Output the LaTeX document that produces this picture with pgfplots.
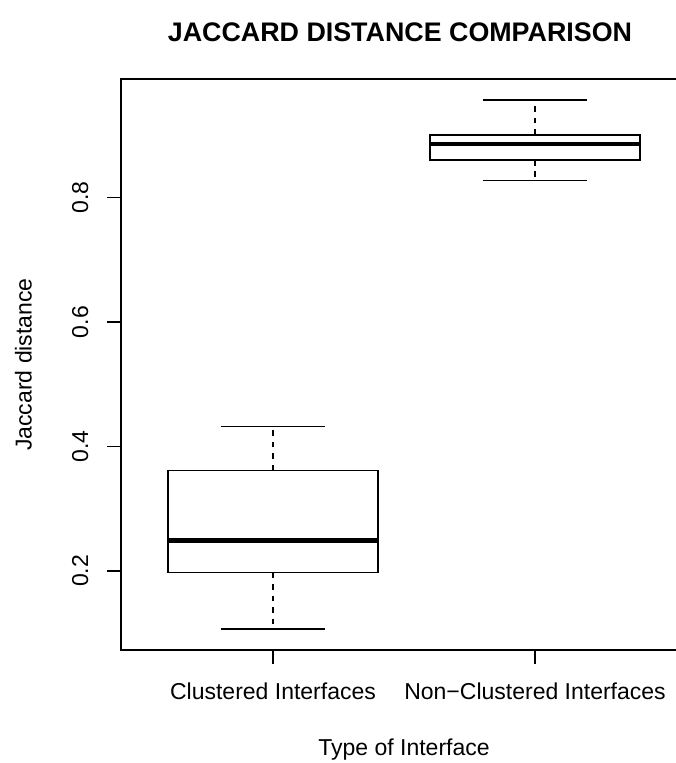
\documentclass[border=0pt]{standalone}
\usepackage{pgfplots}
\pgfplotsset{compat=1.18}
\usepgfplotslibrary{statistics}
\usepackage{fontspec}
\setmainfont{Liberation Sans}
\pgfplotsset{
  boxplot/draw/lower whisker/.code={%
    \draw[black, line width=0.75pt, dash pattern=on 3pt off 3pt]
      (boxplot box cs:\pgfplotsboxplotvalue{lower quartile},0.5) --
      (boxplot box cs:\pgfplotsboxplotvalue{lower whisker},0.5);
    \draw[black, line width=0.75pt, solid]
      (boxplot whisker cs:\pgfplotsboxplotvalue{lower whisker},0) --
      (boxplot whisker cs:\pgfplotsboxplotvalue{lower whisker},1);
  },
  boxplot/draw/upper whisker/.code={%
    \draw[black, line width=0.75pt, dash pattern=on 3pt off 3pt]
      (boxplot box cs:\pgfplotsboxplotvalue{upper quartile},0.5) --
      (boxplot box cs:\pgfplotsboxplotvalue{upper whisker},0.5);
    \draw[black, line width=0.75pt, solid]
      (boxplot whisker cs:\pgfplotsboxplotvalue{upper whisker},0) --
      (boxplot whisker cs:\pgfplotsboxplotvalue{upper whisker},1);
  },
}
\begin{document}
\begin{tikzpicture}
\begin{axis}[
  at={(63.13pt,58.95pt)}, anchor=south west,
  scale only axis,
  width=295.28pt, height=297.89pt,
  xmin=0.42, xmax=2.58,
  ymin=0.0727, ymax=0.991,
  xtick={1,2},
  xticklabels={Clustered Interfaces, Non−Clustered Interfaces},
  ytick={0.2,0.4,0.6,0.8},
  yticklabels={0.2,0.4,0.6,0.8},
  tick align=outside,
  xtick pos=lower, ytick pos=left,
  major tick length=7.2pt,
  tick style={black, line width=0.75pt},
  axis line style={black, line width=0.75pt},
  tick label style={font=\fontsize{12}{14}\selectfont},
  yticklabel style={rotate=90, anchor=base, inner sep=0pt},
  xticklabel style={anchor=base, inner sep=0pt},
  xticklabel shift=18.7pt,
  yticklabel shift=10.0pt,
  xlabel={Type of Interface},
  ylabel={Jaccard distance},
  label style={font=\fontsize{12}{14}\selectfont},
  xlabel style={at={(axis description cs:0.5,-0.1839)}, anchor=base, inner sep=0pt},
  ylabel style={at={(axis description cs:-0.158,0.5)}, anchor=base, inner sep=0pt},
  title={JACCARD DISTANCE COMPARISON},
  title style={at={(axis description cs:0.4929,1.0455)}, anchor=base, inner sep=0pt, font=\bfseries\fontsize{14}{17}\selectfont},
  boxplot/draw direction=y,
  boxplot/every median/.style={line width=2.25pt},
  boxplot/every box/.style={line width=0.75pt},
]
\addplot[draw=black, line width=0.75pt, solid, mark=none,
  boxplot prepared={draw position=1, lower whisker=0.1067, lower quartile=0.1973,
    median=0.2488, upper quartile=0.3614, upper whisker=0.4320,
    box extend=0.8, whisker extend=0.4}] coordinates {};
\addplot[draw=black, line width=0.75pt, solid, mark=none,
  boxplot prepared={draw position=2, lower whisker=0.8280, lower quartile=0.8610,
    median=0.8870, upper quartile=0.9010, upper whisker=0.9570,
    box extend=0.8, whisker extend=0.4}] coordinates {};
\end{axis}
\pgfresetboundingbox
\useasboundingbox (0,0) rectangle (352.67pt,398.06pt);
\end{tikzpicture}
\end{document}
